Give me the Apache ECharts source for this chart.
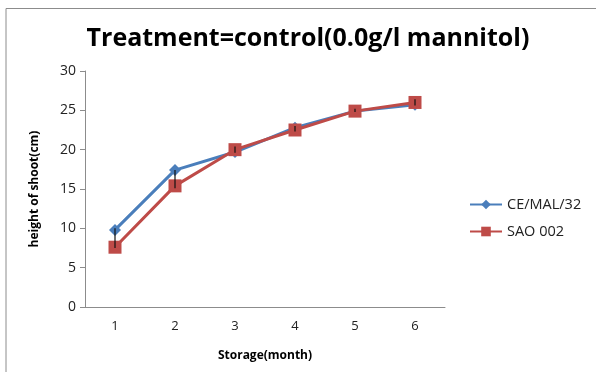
<!DOCTYPE html>
<html>
<head>
<meta charset="utf-8">
<script src="https://cdn.jsdelivr.net/npm/echarts@6/dist/echarts.min.js"></script>
<style>
  html, body { margin: 0; padding: 0; background: #fff; }
  #chart { width: 596px; height: 372px; }
</style>
</head>
<body>
<div id="chart"></div>
<script>
// Storage months on the x axis
var months = ['1', '2', '3', '4', '5', '6'];
// Shoot height (cm) for each line
var ceMal32 = [9.8, 17.4, 19.7, 22.8, 24.9, 25.7];
var sao002 = [7.6, 15.4, 20.0, 22.5, 24.9, 26.0];
// Error bar extents (cm): low and high end per month
var errLow = [7.5, 15.1, 19.6, 22.3, 24.8, 25.6];
var errHigh = [10.0, 17.4, 20.4, 23.0, 25.2, 26.4];

var fontFam = 'Open Sans, Liberation Sans, sans-serif';
var chart = echarts.init(document.getElementById('chart'), null, { renderer: 'canvas' });

var errData = months.map(function (m, i) { return [i, errLow[i], errHigh[i]]; });

chart.setOption({
  animation: false,
  backgroundColor: '#fff',
  title: {
    text: 'Treatment=control(0.0g/l mannitol)',
    left: 303, top: 21, textAlign: 'center',
    textStyle: { fontFamily: fontFam, fontSize: 25, fontWeight: 'bold', color: '#000' }
  },
  graphic: [
    { type: 'polyline', shape: { points: [[6, 372], [6, 8.5], [596, 8.5]] },
      style: { stroke: '#8c8c8c', lineWidth: 1, fill: null } }
  ],
  legend: {
    orient: 'vertical', left: 464, top: 192, itemGap: 12,
    itemWidth: 32, itemHeight: 12, padding: 5,
    textStyle: { fontFamily: fontFam, fontSize: 14.5, color: '#222' },
    data: ['CE/MAL/32', 'SAO 002']
  },
  grid: { left: 85, right: 151, top: 71, bottom: 65 },
  xAxis: {
    type: 'category', data: months, boundaryGap: true,
    name: 'Storage(month)', nameLocation: 'middle', nameGap: 43,
    nameTextStyle: { fontFamily: fontFam, fontSize: 12, fontWeight: 'bold', color: '#000' },
    axisLine: { lineStyle: { color: '#8c8c8c' } },
    axisTick: { show: false },
    axisLabel: { fontFamily: fontFam, fontSize: 13, color: '#222', margin: 13 },
    splitLine: { show: false }
  },
  yAxis: {
    type: 'value', min: 0, max: 30, interval: 5,
    name: 'height of shoot(cm)', nameLocation: 'middle', nameGap: 44, nameRotate: 90,
    nameTextStyle: { fontFamily: fontFam, fontSize: 12, fontWeight: 'bold', color: '#000' },
    axisLine: { show: true, lineStyle: { color: '#8c8c8c' } },
    axisTick: { show: true, inside: false, length: 5, lineStyle: { color: '#8c8c8c' } },
    axisLabel: { fontFamily: fontFam, fontSize: 14, color: '#222', margin: 9 },
    splitLine: { show: false }
  },
  series: [
    {
      name: 'CE/MAL/32', type: 'line', data: ceMal32,
      symbol: 'diamond', symbolSize: 12,
      lineStyle: { color: '#4A7EBB', width: 3 },
      itemStyle: { color: '#4A7EBB' }, z: 2
    },
    {
      name: 'SAO 002', type: 'line', data: sao002,
      symbol: 'rect', symbolSize: 13,
      lineStyle: { color: '#BE4B48', width: 3 },
      itemStyle: { color: '#BE4B48' }, z: 3
    },
    {
      name: 'error', type: 'custom', data: errData, z: 5,
      renderItem: function (params, api) {
        var lo = api.coord([api.value(0), api.value(1)]);
        var hi = api.coord([api.value(0), api.value(2)]);
        return {
          type: 'line',
          shape: { x1: lo[0], y1: lo[1], x2: hi[0], y2: hi[1] },
          style: { stroke: '#111', lineWidth: 1.2 }
        };
      },
      encode: { x: 0, y: [1, 2] }
    }
  ]
});
</script>
</body>
</html>
